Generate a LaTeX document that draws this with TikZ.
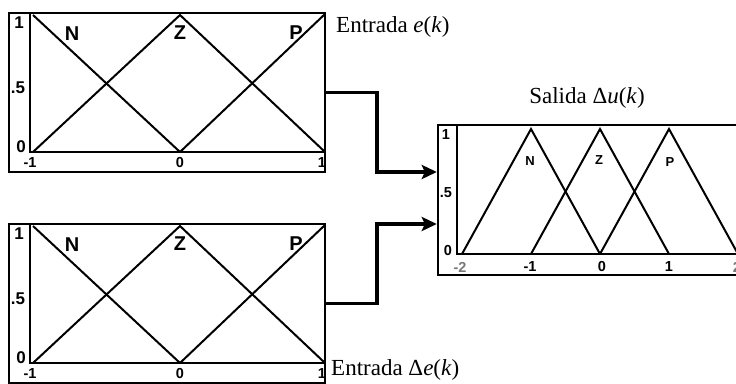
\documentclass[tikz,border=0pt]{standalone}
\usepackage{fontspec}
\setmainfont{Liberation Serif}
\newfontfamily\labf{Liberation Sans}
\usetikzlibrary{arrows.meta,calc}
\definecolor{tickgray}{RGB}{120,120,120}
\begin{document}
\begin{tikzpicture}[x=1pt,y=-1pt,
  frame/.style={draw,line width=2.4pt,rectangle,inner sep=0pt},
  axisln/.style={line width=2.4pt,line cap=rect},
  mf/.style={line width=2pt,line join=miter},
  conn/.style={line width=3.4pt,-{Stealth[length=15pt,width=14pt,inset=3pt]}},
  capt/.style={font=\fontsize{23}{23}\selectfont,inner sep=0pt},
  setlab/.style={font=\labf\bfseries\fontsize{20}{20}\selectfont,inner sep=0pt},
  setlabs/.style={font=\labf\bfseries\fontsize{13}{13}\selectfont,inner sep=0pt},
  ylab/.style={font=\labf\bfseries\fontsize{17}{17}\selectfont,inner sep=0pt},
  xlab/.style={font=\labf\bfseries\fontsize{14.5}{14.5}\selectfont,inner sep=0pt},
  rlab/.style={font=\labf\bfseries\fontsize{14.5}{14.5}\selectfont,inner sep=0pt},
]
\useasboundingbox (0,0) rectangle (736,383);

% ---------- two input boxes ----------
\foreach \dy/\nm in {0/A,211/B}{
  \begin{scope}[shift={(0,\dy)}]
    \node[frame,minimum width=316pt,minimum height=159pt] (\nm) at (167,92.5) {};
    \draw[axisln] (30,13) -- (30,152) -- (325,152);
    \draw[mf] (33,15) -- (180,152);
    \draw[mf] (33,152) -- (180,15) -- (325,152);
    \draw[mf] (180,152) -- (325,14);
    \node[setlab] (\nm N) at (72,34) {N};
    \node[setlab] (\nm Z) at (180,33) {Z};
    \node[setlab] (\nm P) at (296,33) {P};
    \node[ylab] (\nm y1) at (19,23) {1};
    \node[ylab] (\nm y5) at (18,88) {.5};
    \node[ylab] (\nm y0) at (21,147) {0};
    \node[xlab] (\nm xm) at (30,163) {-1};
    \node[xlab] (\nm xz) at (180,163) {0};
    \node[xlab] (\nm xp) at (322,163) {1};
  \end{scope}
}

% ---------- output box ----------
\node[frame,minimum width=300pt,minimum height=150pt] (C) at (588,200) {};
\draw[axisln] (457,125) -- (457,254) -- (738,254);
\draw[mf] (462,254) -- (531,129) -- (600,254);
\draw[mf] (531,254) -- (600,129) -- (669,254);
\draw[mf] (600,254) -- (669,129) -- (738,254);
\node[setlabs] (CN) at (530,161) {N};
\node[setlabs] (CZ) at (599,160) {Z};
\node[setlabs] (CP) at (670,162) {P};
\node[rlab] (Cy1) at (446,135) {1};
\node[rlab] (Cy5) at (446,193) {.5};
\node[rlab] (Cy0) at (448,251) {0};
\node[rlab,text=tickgray] (Cxa) at (460,267) {-2};
\node[rlab] (Cxb) at (530,267) {-1};
\node[rlab] (Cxc) at (602,267) {0};
\node[rlab] (Cxd) at (669,267) {1};
\node[rlab,text=tickgray] (Cxe) at (737,267) {2};

% ---------- captions ----------
\node[capt,anchor=west] (tA) at (336,27) {Entrada \textit{e}(\textit{k})};
\node[capt,anchor=west] (tB) at (331,370) {Entrada Δ\textit{e}(\textit{k})};
\node[capt] (tC) at (587,98) {Salida Δ\textit{u}(\textit{k})};

% ---------- connectors ----------
\coordinate (jA) at (377,172);
\coordinate (jB) at (377,224);
\draw[conn] (A.east) -| (jA) -- (C.west |- jA);
\draw[conn] (B.east) -| (jB) -- (C.west |- jB);
\end{tikzpicture}
\end{document}
